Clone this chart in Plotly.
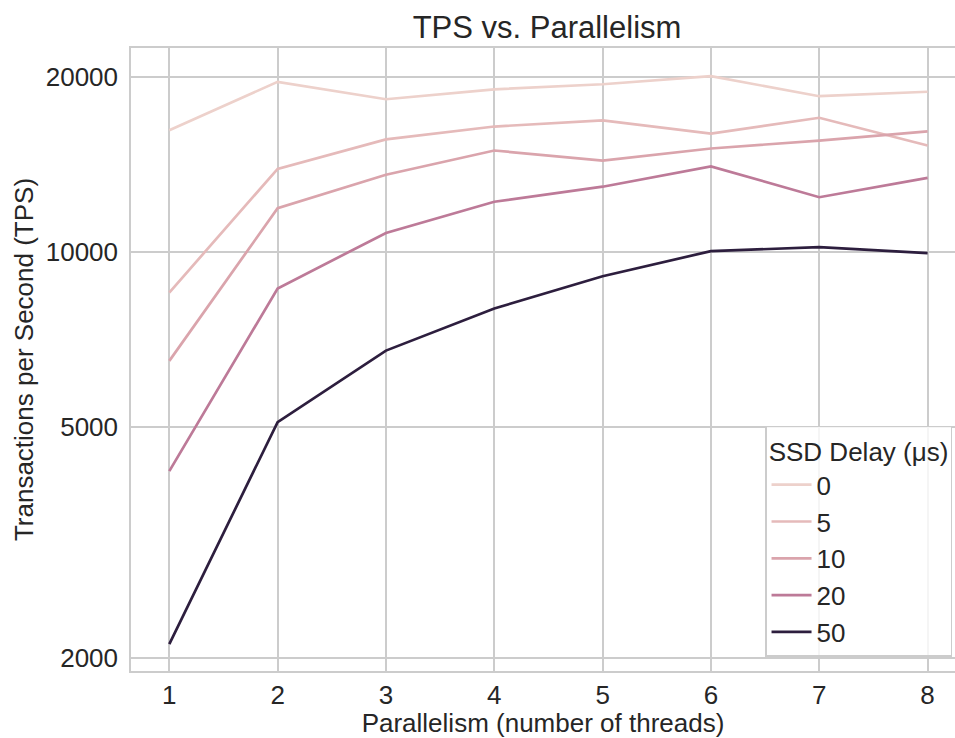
import plotly.graph_objects as go

# ---- data ----
threads = [1, 2, 3, 4, 5, 6, 7, 8]
delay_labels = ["0", "5", "10", "20", "50"]
tps_delay_0 = [16210, 19640, 18330, 19060, 19450, 20080, 18550, 18880]
tps_delay_5 = [8520, 13910, 15630, 16450, 16850, 16000, 17030, 15260]
tps_delay_10 = [6500, 11900, 13590, 14960, 14370, 15080, 15560, 16140]
tps_delay_20 = [4200, 8660, 10790, 12210, 12960, 14050, 12430, 13420]
tps_delay_50 = [2115, 5100, 6770, 8000, 9090, 10040, 10200, 9960]
y_tick_vals = [2000, 5000, 10000, 20000]
y_tick_text = ["2000", "5000", "10000", "20000"]

series = [tps_delay_0, tps_delay_5, tps_delay_10, tps_delay_20, tps_delay_50]
colors = ["#edd1cb", "#e5baba", "#daa4ac", "#bd7a98", "#2d1e3e"]

FONT = "Liberation Sans, Arial, Helvetica, sans-serif"
TXT = "#262626"
GRID = "#cccccc"

W, H = 955, 738

fig = go.Figure()
for name, vals, col in zip(delay_labels, series, colors):
    fig.add_trace(go.Scatter(
        x=threads, y=vals, mode="lines", name=name,
        line=dict(color=col, width=2.7),
    ))

fig.update_layout(
    width=W, height=H,
    margin=dict(l=131, r=0, t=48, b=67, autoexpand=False),
    paper_bgcolor="white", plot_bgcolor="white",
    font=dict(family=FONT, size=26, color=TXT),
    title=dict(text="TPS vs. Parallelism", font=dict(size=31, color=TXT),
               x=547 / W, xref="container", xanchor="center",
               y=1 - 27 / H, yref="container", yanchor="middle"),
    showlegend=True,
    legend=dict(
        x=0.9964, xanchor="right", y=0.0225, yanchor="bottom",
        bgcolor="rgba(255,255,255,0.8)", bordercolor=GRID, borderwidth=1.5,
        font=dict(size=26, color=TXT),
        title=dict(text="SSD Delay (μs)", font=dict(size=26, color=TXT), side="top center"),
        itemwidth=40,
    ),
)

fig.update_xaxes(
    range=[0.6464, 8.253], tickvals=threads,
    showgrid=True, gridcolor=GRID, gridwidth=1.5,
    showline=True, linecolor=GRID, linewidth=1.5, mirror=True,
    zeroline=False, ticks="", ticklabelstandoff=0,
    tickfont=dict(size=26, color=TXT),
    title=dict(text="Parallelism (number of threads)", font=dict(size=26, color=TXT), standoff=6),
)
fig.update_yaxes(
    type="log", range=[3.2792, 4.3513],
    tickvals=y_tick_vals, ticktext=y_tick_text,
    showgrid=True, gridcolor=GRID, gridwidth=1.5,
    showline=True, linecolor=GRID, linewidth=1.5, mirror=False,
    zeroline=False, ticks="", ticklabelstandoff=6,
    tickfont=dict(size=26, color=TXT),
    title=dict(text="Transactions per Second (TPS)", font=dict(size=26, color=TXT), standoff=5),
)

# remove the default 8px page margin so the figure fills the window exactly
fig.write_html(
    "out.html",
    config={"displayModeBar": False},
    post_script="document.body.style.margin='0';document.body.style.overflow='hidden';",
)
